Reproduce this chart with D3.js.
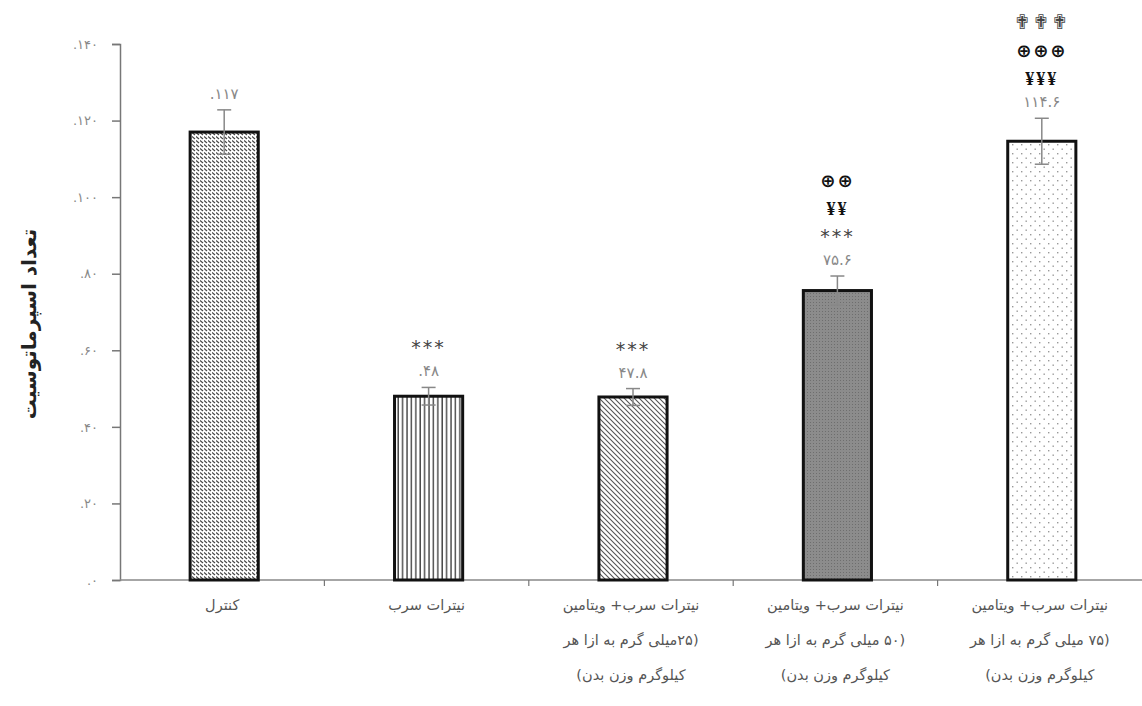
<!DOCTYPE html>
<html>
<head>
<meta charset="utf-8">
<script src="https://cdn.jsdelivr.net/npm/d3@7"></script>
<style>
  body { margin: 0; background: #fff; }
</style>
</head>
<body>
<div id="chart"></div>
<script>
// data
const categories = ["کنترل", "نیترات سرب", "نیترات سرب+ ویتامین ۲۵", "نیترات سرب+ ویتامین ۵۰", "نیترات سرب+ ویتامین ۷۵"]
const catLines = [
  ["کنترل"],
  ["نیترات سرب"],
  ["نیترات سرب+ ویتامین", "(۲۵میلی گرم به ازا هر", "کیلوگرم وزن بدن)"],
  ["نیترات سرب+ ویتامین", "(۵۰ میلی گرم به ازا هر", "کیلوگرم وزن بدن)"],
  ["نیترات سرب+ ویتامین", "(۷۵ میلی گرم به ازا هر", "کیلوگرم وزن بدن)"]
]
const values = [117, 48, 47.8, 75.6, 114.6]
const errors = [5.8, 2.3, 2.2, 3.8, 6]
const valueLabels = [".۱۱۷", ".۴۸", "۴۷.۸", "۷۵.۶", "۱۱۴.۶"]
const stars = ["", "***", "***", "***", ""]
const yens = ["", "", "", "¥¥", "¥¥¥"]
const phis = ["", "", "", "⊕⊕", "⊕⊕⊕"]
const crosses = ["", "", "", "", "✟✟✟"]
const yTicks = [0, 20, 40, 60, 80, 100, 120, 140]
const yTickLabels = [".۰", ".۲۰", ".۴۰", ".۶۰", ".۸۰", ".۱۰۰", ".۱۲۰", ".۱۴۰"]
const yTitle = "تعداد اسپرماتوسیت"

const W = 1142, H = 706
const margins = { top: 44, right: 0, bottom: 126, left: 120 }
const svg = d3.select("#chart").append("svg").attr("width", W).attr("height", H)

const defs = svg.append("defs")
// patterns
const p1 = defs.append("pattern").attr("id", "pat0").attr("patternUnits", "userSpaceOnUse").attr("width", 4).attr("height", 4)
p1.append("rect").attr("width", 4).attr("height", 4).attr("fill", "#fff")
p1.append("path").attr("d", "M0,0.5 L3,3").attr("stroke", "#444").attr("stroke-width", 1.1)
const p2 = defs.append("pattern").attr("id", "pat1").attr("patternUnits", "userSpaceOnUse").attr("width", 4.4).attr("height", 4)
p2.append("rect").attr("width", 4.4).attr("height", 4).attr("fill", "#fff")
p2.append("line").attr("x1", 1).attr("x2", 1).attr("y1", 0).attr("y2", 4).attr("stroke", "#222").attr("stroke-width", 1.2)
const p3 = defs.append("pattern").attr("id", "pat2").attr("patternUnits", "userSpaceOnUse").attr("width", 5).attr("height", 5)
p3.append("rect").attr("width", 5).attr("height", 5).attr("fill", "#fff")
p3.append("path").attr("d", "M-1,-1 L6,6 M-1,4 L1,6 M4,-1 L6,1").attr("stroke", "#555").attr("stroke-width", 1.1)
const p4 = defs.append("pattern").attr("id", "pat3").attr("patternUnits", "userSpaceOnUse").attr("width", 3).attr("height", 3)
p4.append("rect").attr("width", 3).attr("height", 3).attr("fill", "#8c8c8c")
p4.append("rect").attr("width", 1).attr("height", 1).attr("fill", "#6e6e6e")
const p5 = defs.append("pattern").attr("id", "pat4").attr("patternUnits", "userSpaceOnUse").attr("width", 9).attr("height", 9)
p5.append("rect").attr("width", 9).attr("height", 9).attr("fill", "#fff")
p5.append("rect").attr("x", 1).attr("y", 1).attr("width", 1.4).attr("height", 1.4).attr("fill", "#999")
p5.append("rect").attr("x", 5.5).attr("y", 5.5).attr("width", 1.4).attr("height", 1.4).attr("fill", "#999")

const ancho = W - margins.left - margins.right
const alto = H - margins.top - margins.bottom
const g = svg.append("g").attr("transform", `translate(${margins.left}, ${margins.top})`)

const x = d3.scaleBand().domain(categories).range([0, ancho]).padding(0)
const y = d3.scaleLinear().domain([0, 140]).range([alto, 0])
const bw = x.bandwidth() / 3

// axes
const yAxis = d3.axisLeft(y).tickValues(yTicks).tickSize(8).tickFormat((d, i) => yTickLabels[i])
const yg = g.append("g").call(yAxis)
yg.select(".domain").attr("stroke", "#777").attr("stroke-width", 1.5)
yg.selectAll(".tick line").attr("stroke", "#777").attr("stroke-width", 1.5)
yg.selectAll(".tick text").attr("x", -22).attr("fill", "#888").attr("font-size", 13)
  .attr("font-family", "DejaVu Sans").attr("letter-spacing", 2)

const xg = g.append("g").attr("transform", `translate(0, ${alto})`)
xg.append("line").attr("x1", 0).attr("x2", ancho).attr("stroke", "#888").attr("stroke-width", 1.5)
xg.selectAll(".xt").data(categories.slice(1)).enter().append("line")
  .attr("x1", d => x(d)).attr("x2", d => x(d)).attr("y1", 0).attr("y2", 6)
  .attr("stroke", "#777").attr("stroke-width", 1.2)

// bars
const barX = d => x(d) + x.bandwidth() / 2 - bw / 2 + 2
g.selectAll(".bar").data(categories).enter().append("rect")
  .attr("x", barX)
  .attr("y", (d, i) => y(values[i]))
  .attr("width", bw)
  .attr("height", (d, i) => alto - y(values[i]))
  .attr("fill", (d, i) => `url(#pat${i})`)
  .attr("stroke", "#111").attr("stroke-width", 3)

// error bars
const cx = d => barX(d) + bw / 2
const eb = g.selectAll(".err").data(categories).enter().append("g").attr("stroke", "#888").attr("stroke-width", 1.5)
eb.append("line").attr("x1", cx).attr("x2", cx)
  .attr("y1", (d, i) => y(values[i] + errors[i])).attr("y2", (d, i) => y(values[i] - errors[i]))
eb.append("line").attr("x1", d => cx(d) - 7).attr("x2", d => cx(d) + 7)
  .attr("y1", (d, i) => y(values[i] + errors[i])).attr("y2", (d, i) => y(values[i] + errors[i]))
eb.append("line").attr("x1", d => cx(d) - 7).attr("x2", d => cx(d) + 7)
  .attr("y1", (d, i) => y(values[i] - errors[i])).attr("y2", (d, i) => y(values[i] - errors[i]))

// value labels + markers
const labelTop = i => y(values[i] + errors[i]) - 11
g.selectAll(".vl").data(categories).enter().append("text")
  .attr("x", cx).attr("y", (d, i) => labelTop(i))
  .attr("text-anchor", "middle").attr("fill", "#888").attr("font-size", 15)
  .attr("font-family", "DejaVu Sans").attr("letter-spacing", 1)
  .text((d, i) => valueLabels[i])

const markerRows = [stars, yens, phis, crosses]
const markerStyle = [
  { fill: "#444", size: 19, weight: "normal", family: "DejaVu Sans" },
  { fill: "#111", size: 18, weight: "bold", family: "Liberation Serif" },
  { fill: "#111", size: 18, weight: "bold", family: "DejaVu Sans" },
  { fill: "#444", size: 20, weight: "normal", family: "DejaVu Sans" }
]
categories.forEach((c, i) => {
  let k = 0
  markerRows.forEach((row, r) => {
    if (!row[i]) return
    g.append("text")
      .attr("x", cx(c))
      .attr("y", labelTop(i) - 22 - 28 * k)
      .attr("text-anchor", "middle")
      .attr("fill", markerStyle[r].fill)
      .attr("font-size", markerStyle[r].size)
      .attr("font-weight", markerStyle[r].weight)
      .attr("font-family", markerStyle[r].family)
      .attr("letter-spacing", 2)
      .text(row[i])
    k++
  })
})

// category labels
catLines.forEach((lines, i) => {
  lines.forEach((ln, k) => {
    g.append("text")
      .attr("x", x(categories[i]) + x.bandwidth() / 2)
      .attr("y", alto + 30 + 35 * k)
      .attr("text-anchor", "middle")
      .attr("direction", "rtl")
      .attr("fill", "#555").attr("font-size", 14.5)
      .attr("font-family", "DejaVu Sans")
      .text(ln)
  })
})

// y title
svg.append("text")
  .attr("transform", `translate(36, ${margins.top + alto / 2 + 12}) rotate(-90)`)
  .attr("text-anchor", "middle")
  .attr("direction", "rtl")
  .attr("fill", "#222").attr("font-size", 20).attr("font-weight", "bold")
  .attr("font-family", "DejaVu Sans")
  .text(yTitle)
</script>
</body>
</html>
